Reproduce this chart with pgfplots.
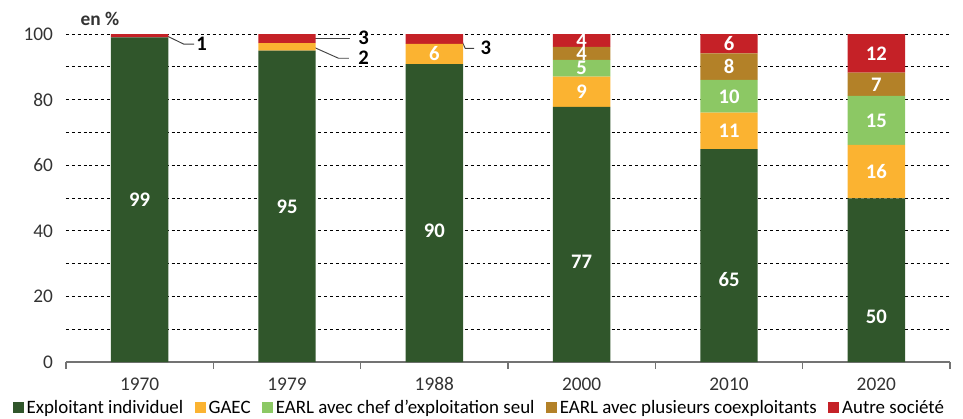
\documentclass[border=0pt]{standalone}
\usepackage{pgfplots}
\pgfplotsset{compat=1.18}
\usepackage{pgfplotstable}
\usepackage{fontspec}
\setmainfont{Carlito}
\definecolor{cInd}{HTML}{30562B}
\definecolor{cGaec}{HTML}{FBB331}
\definecolor{cEarlA}{HTML}{8CC864}
\definecolor{cEarlB}{HTML}{B38128}
\definecolor{cAutre}{HTML}{C52127}
\definecolor{cTxt}{HTML}{333333}

% x, value, label shift below segment centre, label
\pgfplotstableread[col sep=comma]{
x,y,dev,lbl
0,99.0,0.1,99
1,94.9,0.15,95
2,90.8,5.4,90
3,77.8,8.3,77
4,64.9,7.25,65
5,49.9,11.15,50
}\tInd
\pgfplotstableread[col sep=comma]{
x,y,dev,lbl
0,0,0,
1,2.3,0,
2,6.2,0,6
3,9.2,0,9
4,11.1,0,11
5,16.3,0,16
}\tGaec
\pgfplotstableread[col sep=comma]{
x,y,dev,lbl
0,0,0,
1,0,0,
2,0,0,
3,5.1,0,5
4,10.0,0,10
5,14.9,0,15
}\tEarlA
\pgfplotstableread[col sep=comma]{
x,y,dev,lbl
0,0,0,
1,0,0,
2,0,0,
3,4.0,0,4
4,8.1,0,8
5,7.1,0,7
}\tEarlB
\pgfplotstableread[col sep=comma]{
x,y,dev,lbl
0,1.0,0,
1,2.8,0,
2,3.0,0,
3,3.9,0,4
4,5.9,0,6
5,11.8,0,12
}\tAutre

\begin{document}
\begin{tikzpicture}
\useasboundingbox (-49.5pt,-42pt) rectangle (672.75pt,271.5pt);
\begin{axis}[
  at={(0pt,0pt)}, anchor=south west,
  scale only axis,
  width=663pt, height=246pt,
  ybar stacked,
  bar width=0.39,
  xmin=-0.5, xmax=5.5,
  ymin=0, ymax=100,
  xtick={0,...,5},
  xticklabels={1970,1979,1988,2000,2010,2020},
  minor xtick={-0.5,0.5,...,5.5},
  ytick={0,10,...,100},
  yticklabels={0,,20,,40,,60,,80,,100},
  axis lines*=left,
  y axis line style={draw=none},
  x axis line style={draw=black!55, line width=1.1pt},
  tick align=outside,
  minor tick length=5pt,
  major x tick style={draw=none},
  minor x tick style={draw=black!55, line width=0.8pt},
  major y tick style={draw=none},
  ymajorgrids,
  major grid style={black, line width=0.7pt, dash pattern=on 2.2pt off 2.2pt},
  /pgf/number format/assume math mode=true,
  ticklabel style={font=\fontsize{14.5}{15}\selectfont, text=cTxt},
  xticklabel style={yshift=-4pt},
  yticklabel style={xshift=-2pt},
  clip=false,
  point meta=explicit symbolic,
  visualization depends on={\thisrow{dev} \as \dev},
  nodes near coords={\pgfplotspointmeta},
  every node near coord/.append style={
    font=\bfseries\fontsize{15.5}{15.5}\selectfont, text=white, inner sep=0pt,
    anchor=center, shift={(axis direction cs:0,-\dev)}},
  legend columns=-1,
  legend style={at={(0.468,-0.14)}, anchor=center, draw=none,
    font=\fontsize{14.2}{15}\selectfont, text=black,
    inner sep=0pt,
    /tikz/every even column/.append style={column sep=6.5pt}},
]
\addplot[fill=cInd, draw=none,
  legend image code/.code={\fill[cInd] (0pt,-4pt) rectangle (8.4pt,4.4pt);}]
  table[x=x, y=y, meta=lbl] {\tInd};
\addlegendentry{Exploitant individuel}
\addplot[fill=cGaec, draw=none,
  legend image code/.code={\fill[cGaec] (0pt,-4pt) rectangle (8.4pt,4.4pt);}]
  table[x=x, y=y, meta=lbl] {\tGaec};
\addlegendentry{GAEC}
\addplot[fill=cEarlA, draw=none,
  legend image code/.code={\fill[cEarlA] (0pt,-4pt) rectangle (8.4pt,4.4pt);}]
  table[x=x, y=y, meta=lbl] {\tEarlA};
\addlegendentry{EARL avec chef d'exploitation seul}
\addplot[fill=cEarlB, draw=none,
  legend image code/.code={\fill[cEarlB] (0pt,-4pt) rectangle (8.4pt,4.4pt);}]
  table[x=x, y=y, meta=lbl] {\tEarlB};
\addlegendentry{EARL avec plusieurs coexploitants}
\addplot[fill=cAutre, draw=none,
  legend image code/.code={\fill[cAutre] (0pt,-4pt) rectangle (8.4pt,4.4pt);}]
  table[x=x, y=y, meta=lbl] {\tAutre};
\addlegendentry{Autre société}

% leader lines and outside labels
\draw[black!75, line width=0.7pt] (axis cs:0.19,99.3) -- (axis cs:0.30,96.9) -- (axis cs:0.37,96.9);
\node[font=\bfseries\fontsize{15.5}{15.5}\selectfont, text=black] at (axis cs:0.42,96.9) {1};
\draw[black!75, line width=0.7pt] (axis cs:1.19,98.7) -- (axis cs:1.43,98.7);
\node[font=\bfseries\fontsize{15.5}{15.5}\selectfont, text=black, inner sep=0pt] at (axis cs:1.52,98.9) {3};
\draw[black!75, line width=0.7pt] (axis cs:1.19,95.8) -- (axis cs:1.35,92.6) -- (axis cs:1.42,92.6);
\node[font=\bfseries\fontsize{15.5}{15.5}\selectfont, text=black, inner sep=0pt] at (axis cs:1.52,92.8) {2};
\draw[black!75, line width=0.7pt] (axis cs:2.18,98.5) -- (axis cs:2.21,95.6) -- (axis cs:2.27,95.6);
\node[font=\bfseries\fontsize{15.5}{15.5}\selectfont, text=black] at (axis cs:2.35,95.8) {3};

\node[anchor=west, font=\bfseries\fontsize{14.5}{15}\selectfont, text=cTxt]
  at (rel axis cs:0,1) [xshift=7.5pt, yshift=11pt] {en \%};
\end{axis}
\end{tikzpicture}
\end{document}
